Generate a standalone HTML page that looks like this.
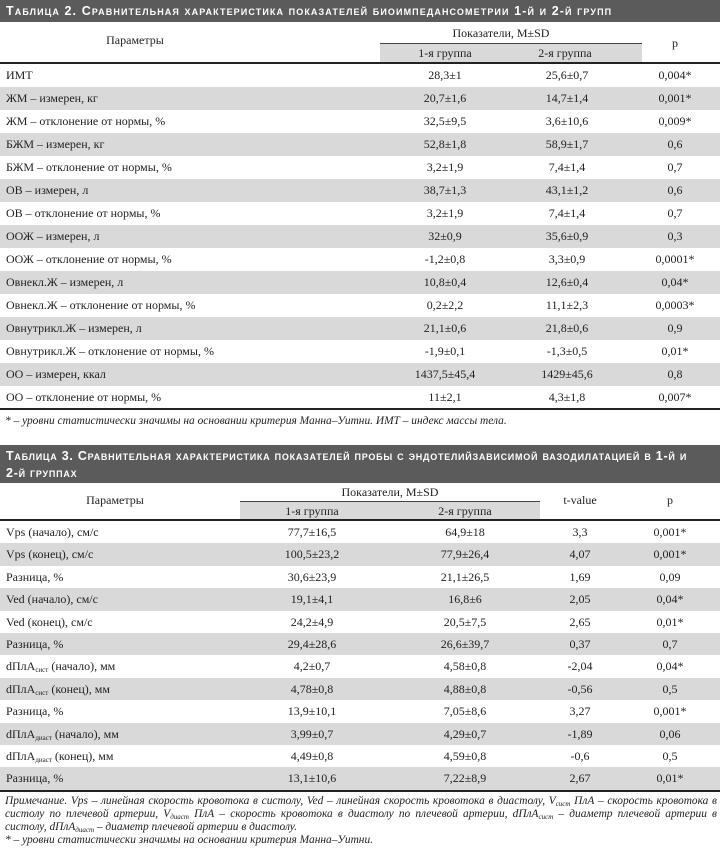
<!DOCTYPE html>
<html><head><meta charset="utf-8"><style>
*{margin:0;padding:0;box-sizing:border-box}
body{width:720px;height:854px;background:#fff;font-family:"Liberation Serif","Noto Serif CJK SC",serif;font-size:12px;color:#222;position:relative;overflow:hidden}
.bar{position:absolute;left:0;width:720px;background:#5b5b5b;color:#fff;font-family:"Liberation Sans",sans-serif;font-weight:bold;font-variant:small-caps;font-size:12.5px;letter-spacing:1.1px;padding:3px 6px;line-height:17px;white-space:nowrap;overflow:hidden}
.r{position:absolute;left:0;width:720px}
.g{background:#d9d9d9}
.c{position:absolute;text-align:center;white-space:nowrap}
.l{position:absolute;left:6px;white-space:nowrap}
.hl{position:absolute;left:0;width:720px;height:2px;background:#222}
.band{position:absolute;background:#d9d9d9;border-top:1px solid #444}
.note{position:absolute;left:5px;width:712px;font-style:italic;font-size:11.4px;line-height:13px;text-align:justify}
sub{font-size:7px;line-height:0;vertical-align:-2px}
</style></head><body>

<div class="bar" style="top:0;height:22px">Таблица 2. Сравнительная характеристика показателей биоимпедансометрии 1-й и 2-й групп</div>
<div class="c" style="left:0;width:270px;top:33px">Параметры</div>
<div class="c" style="left:380px;width:242px;top:26px">Показатели, M±SD</div>
<div class="band" style="left:380px;width:262px;top:43px;height:19px"></div>
<div class="c" style="left:395px;width:100px;top:46px">1-я группа</div>
<div class="c" style="left:515px;width:100px;top:46px">2-я группа</div>
<div class="c" style="left:650px;width:50px;top:36px">p</div>
<div class="hl" style="top:62px"></div>
<div id="t2"></div>
<div class="hl" style="top:408px"></div>
<div class="note" style="top:415px">* – уровни статистически значимы на основании критерия Манна–Уитни. ИМТ – индекс массы тела.</div>

<div class="bar" style="top:445px;height:38px;letter-spacing:0.75px">Таблица 3. Сравнительная характеристика показателей пробы с эндотелийзависимой вазодилатацией в 1-й и<br>2-й группах</div>
<div class="c" style="left:0;width:230px;top:493px">Параметры</div>
<div class="c" style="left:240px;width:300px;top:485px">Показатели, M±SD</div>
<div class="band" style="left:240px;width:300px;top:501px;height:19px"></div>
<div class="c" style="left:262px;width:100px;top:504px">1-я группа</div>
<div class="c" style="left:415px;width:100px;top:504px">2-я группа</div>
<div class="c" style="left:550px;width:60px;top:493px">t-value</div>
<div class="c" style="left:645px;width:50px;top:493px">p</div>
<div class="hl" style="top:519px"></div>
<div id="t3"></div>
<div class="hl" style="top:790px"></div>
<div class="note" style="top:795px">Примечание. Vps – линейная скорость кровотока в систолу, Ved – линейная скорость кровотока в диастолу, V<sub>сист</sub> ПлА – скорость кровотока в систолу по плечевой артерии, V<sub>диаст</sub> ПлА – скорость кровотока в диастолу по плечевой артерии, dПлА<sub>сист</sub> – диаметр плечевой артерии в систолу, dПлА<sub>диаст</sub> – диаметр плечевой артерии в диастолу.<br>* – уровни статистически значимы на основании критерия Манна–Уитни.</div>

<script>
var t2=[["ИМТ","28,3±1","25,6±0,7","0,004*"],["ЖМ – измерен, кг","20,7±1,6","14,7±1,4","0,001*"],["ЖМ – отклонение от нормы, %","32,5±9,5","3,6±10,6","0,009*"],["БЖМ – измерен, кг","52,8±1,8","58,9±1,7","0,6"],["БЖМ – отклонение от нормы, %","3,2±1,9","7,4±1,4","0,7"],["ОВ – измерен, л","38,7±1,3","43,1±1,2","0,6"],["ОВ – отклонение от нормы, %","3,2±1,9","7,4±1,4","0,7"],["ООЖ – измерен, л","32±0,9","35,6±0,9","0,3"],["ООЖ – отклонение от нормы, %","-1,2±0,8","3,3±0,9","0,0001*"],["Овнекл.Ж – измерен, л","10,8±0,4","12,6±0,4","0,04*"],["Овнекл.Ж – отклонение от нормы, %","0,2±2,2","11,1±2,3","0,0003*"],["Овнутрикл.Ж – измерен, л","21,1±0,6","21,8±0,6","0,9"],["Овнутрикл.Ж – отклонение от нормы, %","-1,9±0,1","-1,3±0,5","0,01*"],["ОО – измерен, ккал","1437,5±45,4","1429±45,6","0,8"],["ОО – отклонение от нормы, %","11±2,1","4,3±1,8","0,007*"]];
var h="";
t2.forEach(function(r,i){var y=64+i*23;h+='<div class="r'+(i%2?' g':'')+'" style="top:'+y+'px;height:23px"><div class="l" style="top:4px">'+r[0]+'</div><div class="c" style="left:395px;width:100px;top:4px">'+r[1]+'</div><div class="c" style="left:517px;width:100px;top:4px">'+r[2]+'</div><div class="c" style="left:640px;width:70px;top:4px">'+r[3]+'</div></div>';});
document.getElementById("t2").innerHTML=h;
var t3=[["Vps (начало), см/с","77,7±16,5","64,9±18","3,3","0,001*"],["Vps (конец), см/с","100,5±23,2","77,9±26,4","4,07","0,001*"],["Разница, %","30,6±23,9","21,1±26,5","1,69","0,09"],["Ved (начало), см/с","19,1±4,1","16,8±6","2,05","0,04*"],["Ved (конец), см/с","24,2±4,9","20,5±7,5","2,65","0,01*"],["Разница, %","29,4±28,6","26,6±39,7","0,37","0,7"],["dПлА<sub>сист</sub> (начало), мм","4,2±0,7","4,58±0,8","-2,04","0,04*"],["dПлА<sub>сист</sub> (конец), мм","4,78±0,8","4,88±0,8","-0,56","0,5"],["Разница, %","13,9±10,1","7,05±8,6","3,27","0,001*"],["dПлА<sub>диаст</sub> (начало), мм","3,99±0,7","4,29±0,7","-1,89","0,06"],["dПлА<sub>диаст</sub> (конец), мм","4,49±0,8","4,59±0,8","-0,6","0,5"],["Разница, %","13,1±10,6","7,22±8,9","2,67","0,01*"]];
h="";
t3.forEach(function(r,i){var y=521+i*22.4;h+='<div class="r'+(i%2?' g':'')+'" style="top:'+y+'px;height:22.4px"><div class="l" style="top:4px">'+r[0]+'</div><div class="c" style="left:262px;width:100px;top:4px">'+r[1]+'</div><div class="c" style="left:415px;width:100px;top:4px">'+r[2]+'</div><div class="c" style="left:550px;width:60px;top:4px">'+r[3]+'</div><div class="c" style="left:635px;width:70px;top:4px">'+r[4]+'</div></div>';});
document.getElementById("t3").innerHTML=h;
</script>
</body></html>
